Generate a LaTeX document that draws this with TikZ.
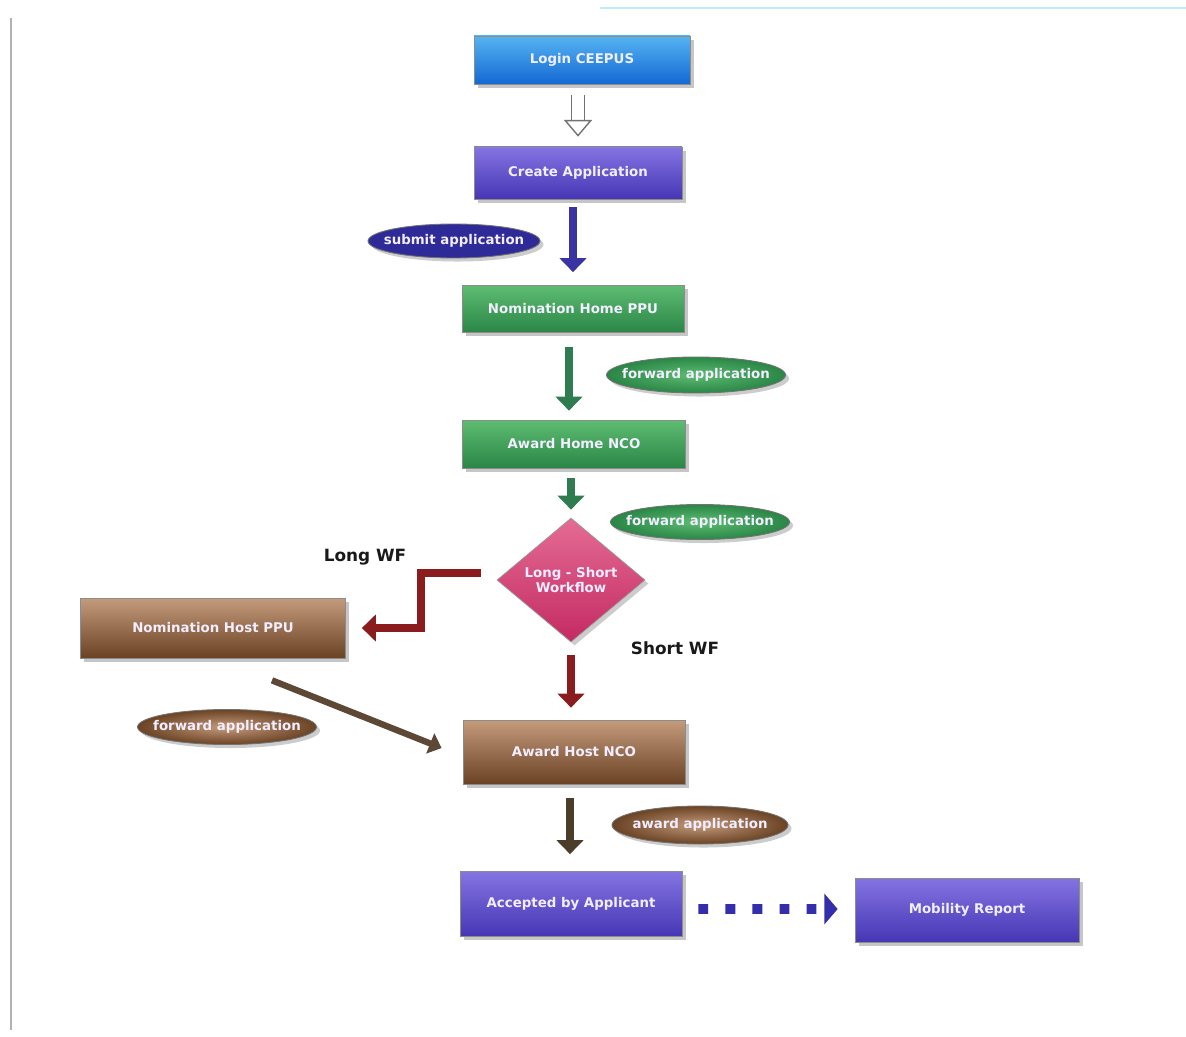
\documentclass[tikz,border=0pt]{standalone}
\usepackage{fontspec}
\setmainfont{DejaVu Sans}
\usepackage{tikz}
\usetikzlibrary{arrows.meta}
\usetikzlibrary{shapes}
\usetikzlibrary{shadows}

\definecolor{loginTop}{HTML}{55B4F2}
\definecolor{loginBot}{HTML}{1468D4}
\definecolor{violetTop}{HTML}{8474E2}
\definecolor{violetBot}{HTML}{4636B4}
\definecolor{greenTop}{HTML}{5EBC72}
\definecolor{greenBot}{HTML}{2A8646}
\definecolor{brownTop}{HTML}{C49C7C}
\definecolor{brownBot}{HTML}{6A4224}
\definecolor{pinkTop}{HTML}{E46C94}
\definecolor{pinkBot}{HTML}{C42A62}
\definecolor{submitBlue}{HTML}{2E2A98}
\definecolor{arrBlue}{HTML}{3A33A2}
\definecolor{arrGreen}{HTML}{2E7C50}
\definecolor{arrRed}{HTML}{8A1C1E}
\definecolor{arrBrown}{HTML}{5C4834}
\definecolor{arrDark}{HTML}{4C3C2A}
\definecolor{boxText}{HTML}{F2EEFF}

\begin{document}
\begin{tikzpicture}[x=0.02cm, y=-0.02cm, thick,
	box/.style={rectangle, draw=black!45, line width=0.4pt, text=boxText,
		font=\bfseries\fontsize{7.6}{8}\selectfont, inner sep=0pt,
		drop shadow={shadow xshift=2.2pt, shadow yshift=-2.2pt, opacity=0.45}},
	tag/.style={ellipse, draw=black!55, line width=0.5pt, text=boxText,
		font=\bfseries\fontsize{7.6}{8}\selectfont, inner xsep=-0.21cm, inner ysep=0pt,
		drop shadow={shadow xshift=2pt, shadow yshift=-2pt, opacity=0.4}},
	loginbox/.style={box, top color=loginTop, bottom color=loginBot},
	violetbox/.style={box, top color=violetTop, bottom color=violetBot},
	greenbox/.style={box, top color=greenTop, bottom color=greenBot},
	brownbox/.style={box, top color=brownTop, bottom color=brownBot},
	wflabel/.style={font=\bfseries\fontsize{9.6}{11}\selectfont, text=black!90},
	flow/.style={line width=4.6pt, -{Triangle[length=8pt, width=15pt]}},
	hollowarrow/.style={draw=black!55, line width=0.8pt, double=white, double distance=6.4pt,
		-{Triangle[open, fill=white, length=9.5pt, width=16pt]}},
]
% frame of the scanned page
\useasboundingbox (0,0) rectangle (1186,1037);
\draw [black!30, line width=0.6pt] (11,18) -- (11,1030);
\draw [cyan!25, line width=0.6pt] (600,8) -- (1186,8);
%
\node [loginbox,  minimum width=216*0.02cm, minimum height=48*0.02cm] (login)     at (582,60)  {Login CEEPUS};
\node [violetbox, minimum width=208*0.02cm, minimum height=52*0.02cm] (create)    at (578,173) {Create Application};
\node [greenbox,  minimum width=222*0.02cm, minimum height=47*0.02cm] (nomhome)   at (573,309) {Nomination Home PPU};
\node [greenbox,  minimum width=223*0.02cm, minimum height=48*0.02cm] (awardhome) at (574,444) {Award Home NCO};
\node [diamond, draw=black!40, line width=0.4pt, top color=pinkTop, bottom color=pinkBot,
	text=boxText, font=\bfseries\fontsize{7.6}{8}\selectfont, align=center, inner sep=0pt,
	minimum width=148*0.02cm, minimum height=124*0.02cm,
	drop shadow={shadow xshift=2pt, shadow yshift=-2pt, opacity=0.4}] (workflow) at (571,580) {Long - Short\\Workflow};
\node [brownbox,  minimum width=265*0.02cm, minimum height=60*0.02cm] (nomhost)   at (213,628) {Nomination Host PPU};
\node [brownbox,  minimum width=222*0.02cm, minimum height=64*0.02cm] (awardhost) at (574,752) {Award Host NCO};
\node [violetbox, minimum width=222*0.02cm, minimum height=65*0.02cm] (accepted)  at (571,904) {Accepted by Applicant};
\node [violetbox, minimum width=224*0.02cm, minimum height=64*0.02cm] (mobility)  at (967,910) {Mobility Report};
%
\node [tag, fill=submitBlue, minimum width=172*0.02cm, minimum height=34*0.02cm] (submit) at (454,241) {submit application};
\node [tag, inner color=greenTop, outer color=greenBot, minimum width=178*0.02cm, minimum height=36*0.02cm] (fwdone) at (696,375) {forward application};
\node [tag, inner color=greenTop, outer color=greenBot, minimum width=178*0.02cm, minimum height=35*0.02cm] (fwdtwo) at (700,522) {forward application};
\node [tag, inner color=brownTop, outer color=brownBot, minimum width=178*0.02cm, minimum height=35*0.02cm] (fwdhost) at (227,727) {forward application};
\node [tag, inner color=brownTop, outer color=brownBot, minimum width=176*0.02cm, minimum height=38*0.02cm] (awardapp) at (700,825) {award application};
%
\node [wflabel] (longwf)  at (365,557) {Long WF};
\node [wflabel] (shortwf) at (675,648) {Short WF};
%
\draw [hollowarrow, shorten <=0.22cm, shorten >=0.2cm] (login.south -| create.north) -- (create.north);
\draw [flow, arrBlue, shorten <=0.16cm, shorten >=0.26cm] (create.south -| nomhome.north) -- (nomhome.north);
\draw [flow, arrGreen, shorten <=0.28cm, shorten >=0.18cm] ([xshift=-0.08cm]nomhome.south) -- ([xshift=-0.08cm]nomhome.south |- awardhome.north);
\draw [flow, arrGreen, shorten <=0.2cm, shorten >=0.16cm] (awardhome.south -| workflow.north) -- (workflow.north);
\draw [flow, arrRed, shorten <=0.26cm, shorten >=0.24cm] (workflow.south) -- (workflow.south |- awardhost.north);
\draw [flow, arrRed] ([xshift=-0.32cm, yshift=0.14cm]workflow.west) -- ++(-1.2cm,0) |- ([xshift=0.32cm]nomhost.east);
\draw [arrBrown, line width=3.6pt, -{Triangle[length=7pt, width=12pt]}] ([xshift=1.18cm, yshift=-0.44cm]nomhost.south) -- ([xshift=-0.42cm, yshift=0.08cm]awardhost.west);
\draw [flow, arrDark, shorten <=0.28cm, shorten >=0.34cm] ([xshift=-0.08cm]awardhost.south) -- ([xshift=-0.08cm]awardhost.south |- accepted.north);
\draw [arrBlue!90!blue, line width=5.6pt, dash pattern=on 5.6pt off 9.8pt, shorten <=0.32cm, shorten >=0.34cm,
	-{Triangle[length=7.5pt, width=17pt]}] ([yshift=-0.1cm]accepted.east) -- ([yshift=0.02cm]mobility.west);
\end{tikzpicture}
\end{document}
